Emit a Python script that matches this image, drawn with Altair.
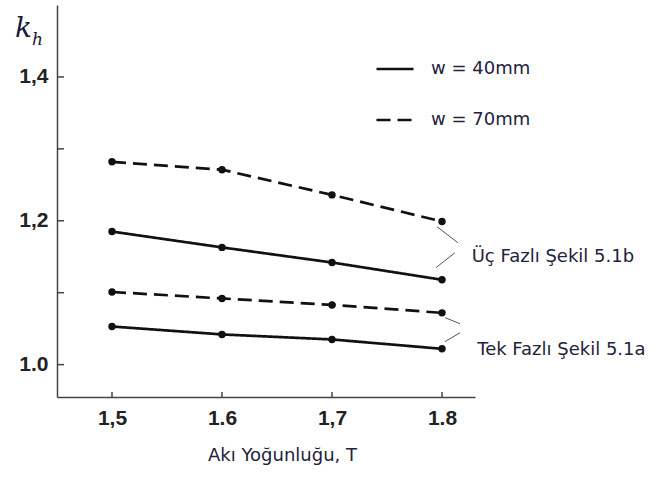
import altair as alt
import pandas as pd

# ---- data ----
x_vals = [1.5, 1.6, 1.7, 1.8]
uc_w70 = [1.282, 1.271, 1.236, 1.199]
uc_w40 = [1.185, 1.163, 1.142, 1.118]
tek_w70 = [1.101, 1.092, 1.083, 1.072]
tek_w40 = [1.053, 1.042, 1.035, 1.022]
widths = ["w = 40mm", "w = 70mm"]

x_tick_values = [1.5, 1.6, 1.7, 1.8]
x_tick_labels = ["1,5", "1.6", "1,7", "1.8"]
y_tick_values = [1.0, 1.1, 1.2, 1.3, 1.4]
y_tick_labels = ["1.0", "", "1,2", "", "1,4"]

annot_texts = ["Üç Fazlı Şekil 5.1b", "Tek Fazlı Şekil 5.1a"]
annot_x = [1.827, 1.832]
annot_y = [1.150, 1.021]

leader_x1 = [1.7955, 1.8118, 1.8027, 1.8164]
leader_y1 = [1.1917, 1.1556, 1.0653, 1.0444]
leader_x2 = [1.8145, 1.7945, 1.8164, 1.8027]
leader_y2 = [1.1694, 1.1347, 1.0569, 1.0319]

# ---- tables ----
rows = []
for name, w, ys in [("uc70", widths[1], uc_w70), ("uc40", widths[0], uc_w40),
                    ("tek70", widths[1], tek_w70), ("tek40", widths[0], tek_w40)]:
    for xv, yv in zip(x_vals, ys):
        rows.append({"series": name, "w": w, "x": xv, "y": yv})
df = pd.DataFrame(rows)

annot_df = pd.DataFrame({"text": annot_texts, "x": annot_x, "y": annot_y})
leader_df = pd.DataFrame({"x": leader_x1, "y": leader_y1, "x2": leader_x2, "y2": leader_y2})
xt_df = pd.DataFrame({"x": x_tick_values})
yt_df = pd.DataFrame({"y": y_tick_values})


def label_expr(values, labels):
    parts = []
    for v, l in zip(values, labels):
        parts.append(f"abs(datum.value - {v}) < 0.001 ? '{l}' : ")
    return "".join(parts) + "''"


W, H = 418, 392
xscale = alt.Scale(domain=[1.45, 1.83], nice=False, zero=False)
yscale = alt.Scale(domain=[0.955, 1.5], nice=False, zero=False)

TICK_FONT = "Liberation Sans"
TEXT_FONT = "DejaVu Sans"
TEXT_COLOR = "#22223a"

x_enc = alt.X(
    "x:Q", scale=xscale,
    axis=alt.Axis(
        values=x_tick_values, labelExpr=label_expr(x_tick_values, x_tick_labels),
        ticks=False, tickSize=0, grid=False, domainColor="#444", domainWidth=1.5,
        labelFont=TICK_FONT, labelFontSize=21, labelFontWeight="bold", labelColor="#222",
        labelPadding=10, title="Akı Yoğunluğu, T", titleFont=TEXT_FONT, titleFontSize=18,
        titleFontWeight="normal", titleColor=TEXT_COLOR, titleX=225, titleY=63,
        titleBaseline="alphabetic", titleAlign="center",
    ),
)
y_enc = alt.Y(
    "y:Q", scale=yscale,
    axis=alt.Axis(
        values=y_tick_values, labelExpr=label_expr(y_tick_values, y_tick_labels),
        ticks=False, tickSize=0, grid=False, domainColor="#444", domainWidth=1.5,
        labelFont=TICK_FONT, labelFontSize=21, labelFontWeight="bold", labelColor="#222",
        labelPadding=9, title=None,
    ),
)

lines = alt.Chart(df).mark_line(strokeWidth=2.7, color="#111").encode(
    x=x_enc, y=y_enc, detail="series:N",
    strokeDash=alt.StrokeDash(
        "w:N",
        scale=alt.Scale(domain=widths, range=[[1, 0], [14, 7]]),
        legend=alt.Legend(
            title=None, orient="none", legendX=318, legendY=44, padding=0,
            symbolType="stroke", symbolSize=1369, symbolStrokeWidth=2.5,
            symbolStrokeColor="#111", labelFont=TEXT_FONT, labelFontSize=18,
            labelColor=TEXT_COLOR, labelOffset=16, rowPadding=22,
        ),
    ),
)

points = alt.Chart(df).mark_point(filled=True, size=55, color="#111", opacity=1).encode(
    x="x:Q", y="y:Q"
)

yticks = alt.Chart(yt_df).mark_rule(color="#444", strokeWidth=1.5).encode(
    y="y:Q", x=alt.value(0), x2=alt.value(7)
)
xticks = alt.Chart(xt_df).mark_rule(color="#444", strokeWidth=1.5).encode(
    x="x:Q", y=alt.value(H), y2=alt.value(H - 5)
)

leaders = alt.Chart(leader_df).mark_rule(color="#555", strokeWidth=1).encode(
    x="x:Q", y="y:Q", x2="x2:Q", y2="y2:Q"
)

annots = alt.Chart(annot_df).mark_text(
    align="left", baseline="middle", font=TEXT_FONT, fontSize=18, color=TEXT_COLOR
).encode(x="x:Q", y="y:Q", text="text:N")

k_title = alt.Chart(pd.DataFrame({"t": ["k"]})).mark_text(
    align="left", baseline="alphabetic", font="DejaVu Serif", fontStyle="italic",
    fontSize=28, color="#1a1a3a"
).encode(x=alt.value(-42), y=alt.value(32), text="t:N")
h_title = alt.Chart(pd.DataFrame({"t": ["h"]})).mark_text(
    align="left", baseline="alphabetic", font="DejaVu Serif", fontStyle="italic",
    fontSize=17, color="#1a1a3a"
).encode(x=alt.value(-25), y=alt.value(40), text="t:N")

chart = alt.layer(
    lines, points, yticks, xticks, leaders, annots, k_title, h_title
).properties(
    width=W, height=H,
    autosize=alt.AutoSizeParams(type="none"),
    padding={"left": 57, "top": 5, "right": 662 - 57 - W, "bottom": 478 - 5 - H},
    background="white",
).configure_view(stroke=None)

chart.save("out.html", embed_options={"renderer": "svg", "actions": False})
